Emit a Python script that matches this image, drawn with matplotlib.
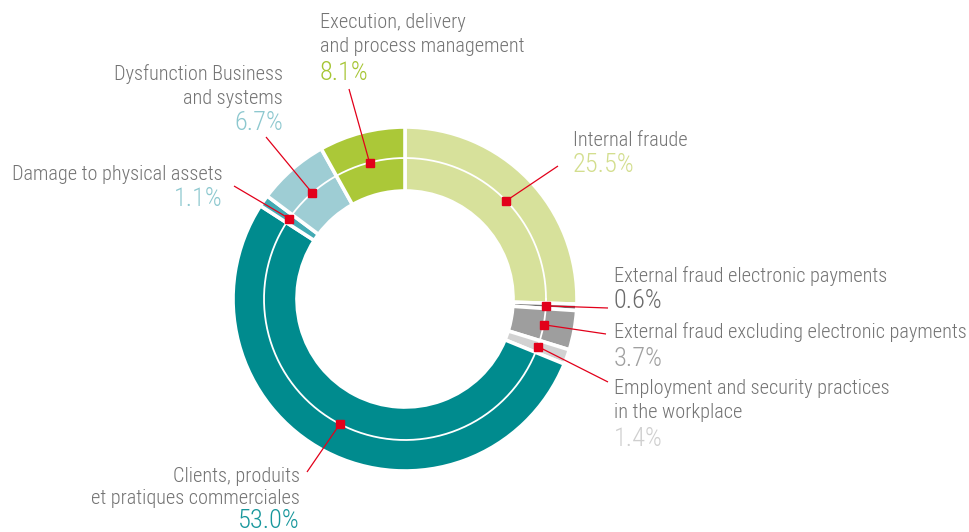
import numpy as np
import matplotlib
matplotlib.use("Agg")
import matplotlib.pyplot as plt
from matplotlib import font_manager as fm

categories = [
    "Internal fraude",
    "External fraud electronic payments",
    "External fraud excluding electronic payments",
    "Employment and security practices\nin the workplace",
    "Clients, produits\net pratiques commerciales",
    "Damage to physical assets",
    "Dysfunction Business\nand systems",
    "Execution, delivery\nand process management",
]
values = [25.5, 0.6, 3.7, 1.4, 53.0, 1.1, 6.7, 8.1]
pct_labels = ["25.5%", "0.6%", "3.7%", "1.4%", "53.0%", "1.1%", "6.7%", "8.1%"]
colors = ["#d7e19b", "#6f6f6f", "#9e9e9e", "#d2d2d2", "#008b8e", "#43aab3", "#9ecdd4", "#abc838"]
pct_colors = ["#d3de8e", "#6a6a6a", "#a0a0a0", "#cfcfcf", "#17979c", "#8dc8cf", "#8dc8cf", "#a6c534"]

names = {f.name for f in fm.fontManager.ttflist}
fam, fs_lab, fs_pct = "Roboto", 12.4, 16.5
for cand, a, b in [("Roboto Condensed", 14.6, 19.0), ("Liberation Sans Narrow", 14.5, 18.5)]:
    if cand in names:
        fam, fs_lab, fs_pct = cand, a, b
        break
plt.rcParams["font.family"] = [fam, "DejaVu Sans"]

W, H = 970, 532
fig = plt.figure(figsize=(W / 100, H / 100), dpi=100)
ax = fig.add_axes([0, 0, 1, 1])

cx, cy = 405, 532 - 299
R_out, R_in, R_div = 172, 108, 141

ax.pie(values, colors=colors, startangle=90, counterclock=False,
       radius=R_out, center=(cx, cy),
       wedgeprops=dict(width=R_out - R_in, edgecolor="white", linewidth=2.6))
theta = np.linspace(0, 2 * np.pi, 400)
ax.plot(cx + R_div * np.cos(theta), cy + R_div * np.sin(theta), color="white", lw=1.3)

ax.set_xlim(0, W)
ax.set_ylim(0, H)
ax.set_aspect("equal")
ax.axis("off")

red = "#e2001a"
# x, ha, baselines of name lines, baseline of pct, leader end (image coords)
layout = [
    (573, "left", [145.5], 171.5, (558, 166)),
    (614, "left", [281.5], 308.5, (608, 308)),
    (614, "left", [338.5], 366.5, (606, 334)),
    (614, "left", [394.5, 417.5], 446.5, (608, 382)),
    (300, "right", [481.5, 504.5], 528.0, (307, 472)),
    (223, "right", [179.5], 206.5, (234, 186)),
    (283, "right", [80.5, 103.5], 130.5, (266, 137)),
    (320, "left", [28.5, 52.5], 80.5, (349, 89)),
]

cum = np.cumsum([0] + values[:-1])
total = sum(values)
for i, (name, pct) in enumerate(zip(categories, pct_labels)):
    mid = (cum[i] + values[i] / 2) / total
    ang = np.deg2rad(90 - 360 * mid)
    mx, my = cx + R_div * np.cos(ang), cy + R_div * np.sin(ang)
    x, ha, bases, pbase, (ex, ey) = layout[i]
    ax.plot([mx, ex], [my, H - ey], color=red, lw=0.9, solid_capstyle="butt", zorder=5)
    ax.plot([mx], [my], marker="s", ms=5.2, color=red, mec=red, zorder=6)
    for ln, b in zip(name.split("\n"), bases):
        ax.text(x, H - b, ln, ha=ha, va="baseline", fontsize=fs_lab,
                fontweight="light", color="#737373")
    ax.text(x, H - pbase, pct, ha=ha, va="baseline", fontsize=fs_pct,
            fontweight="light", color=pct_colors[i])

fig.savefig("out.png", dpi=100)
